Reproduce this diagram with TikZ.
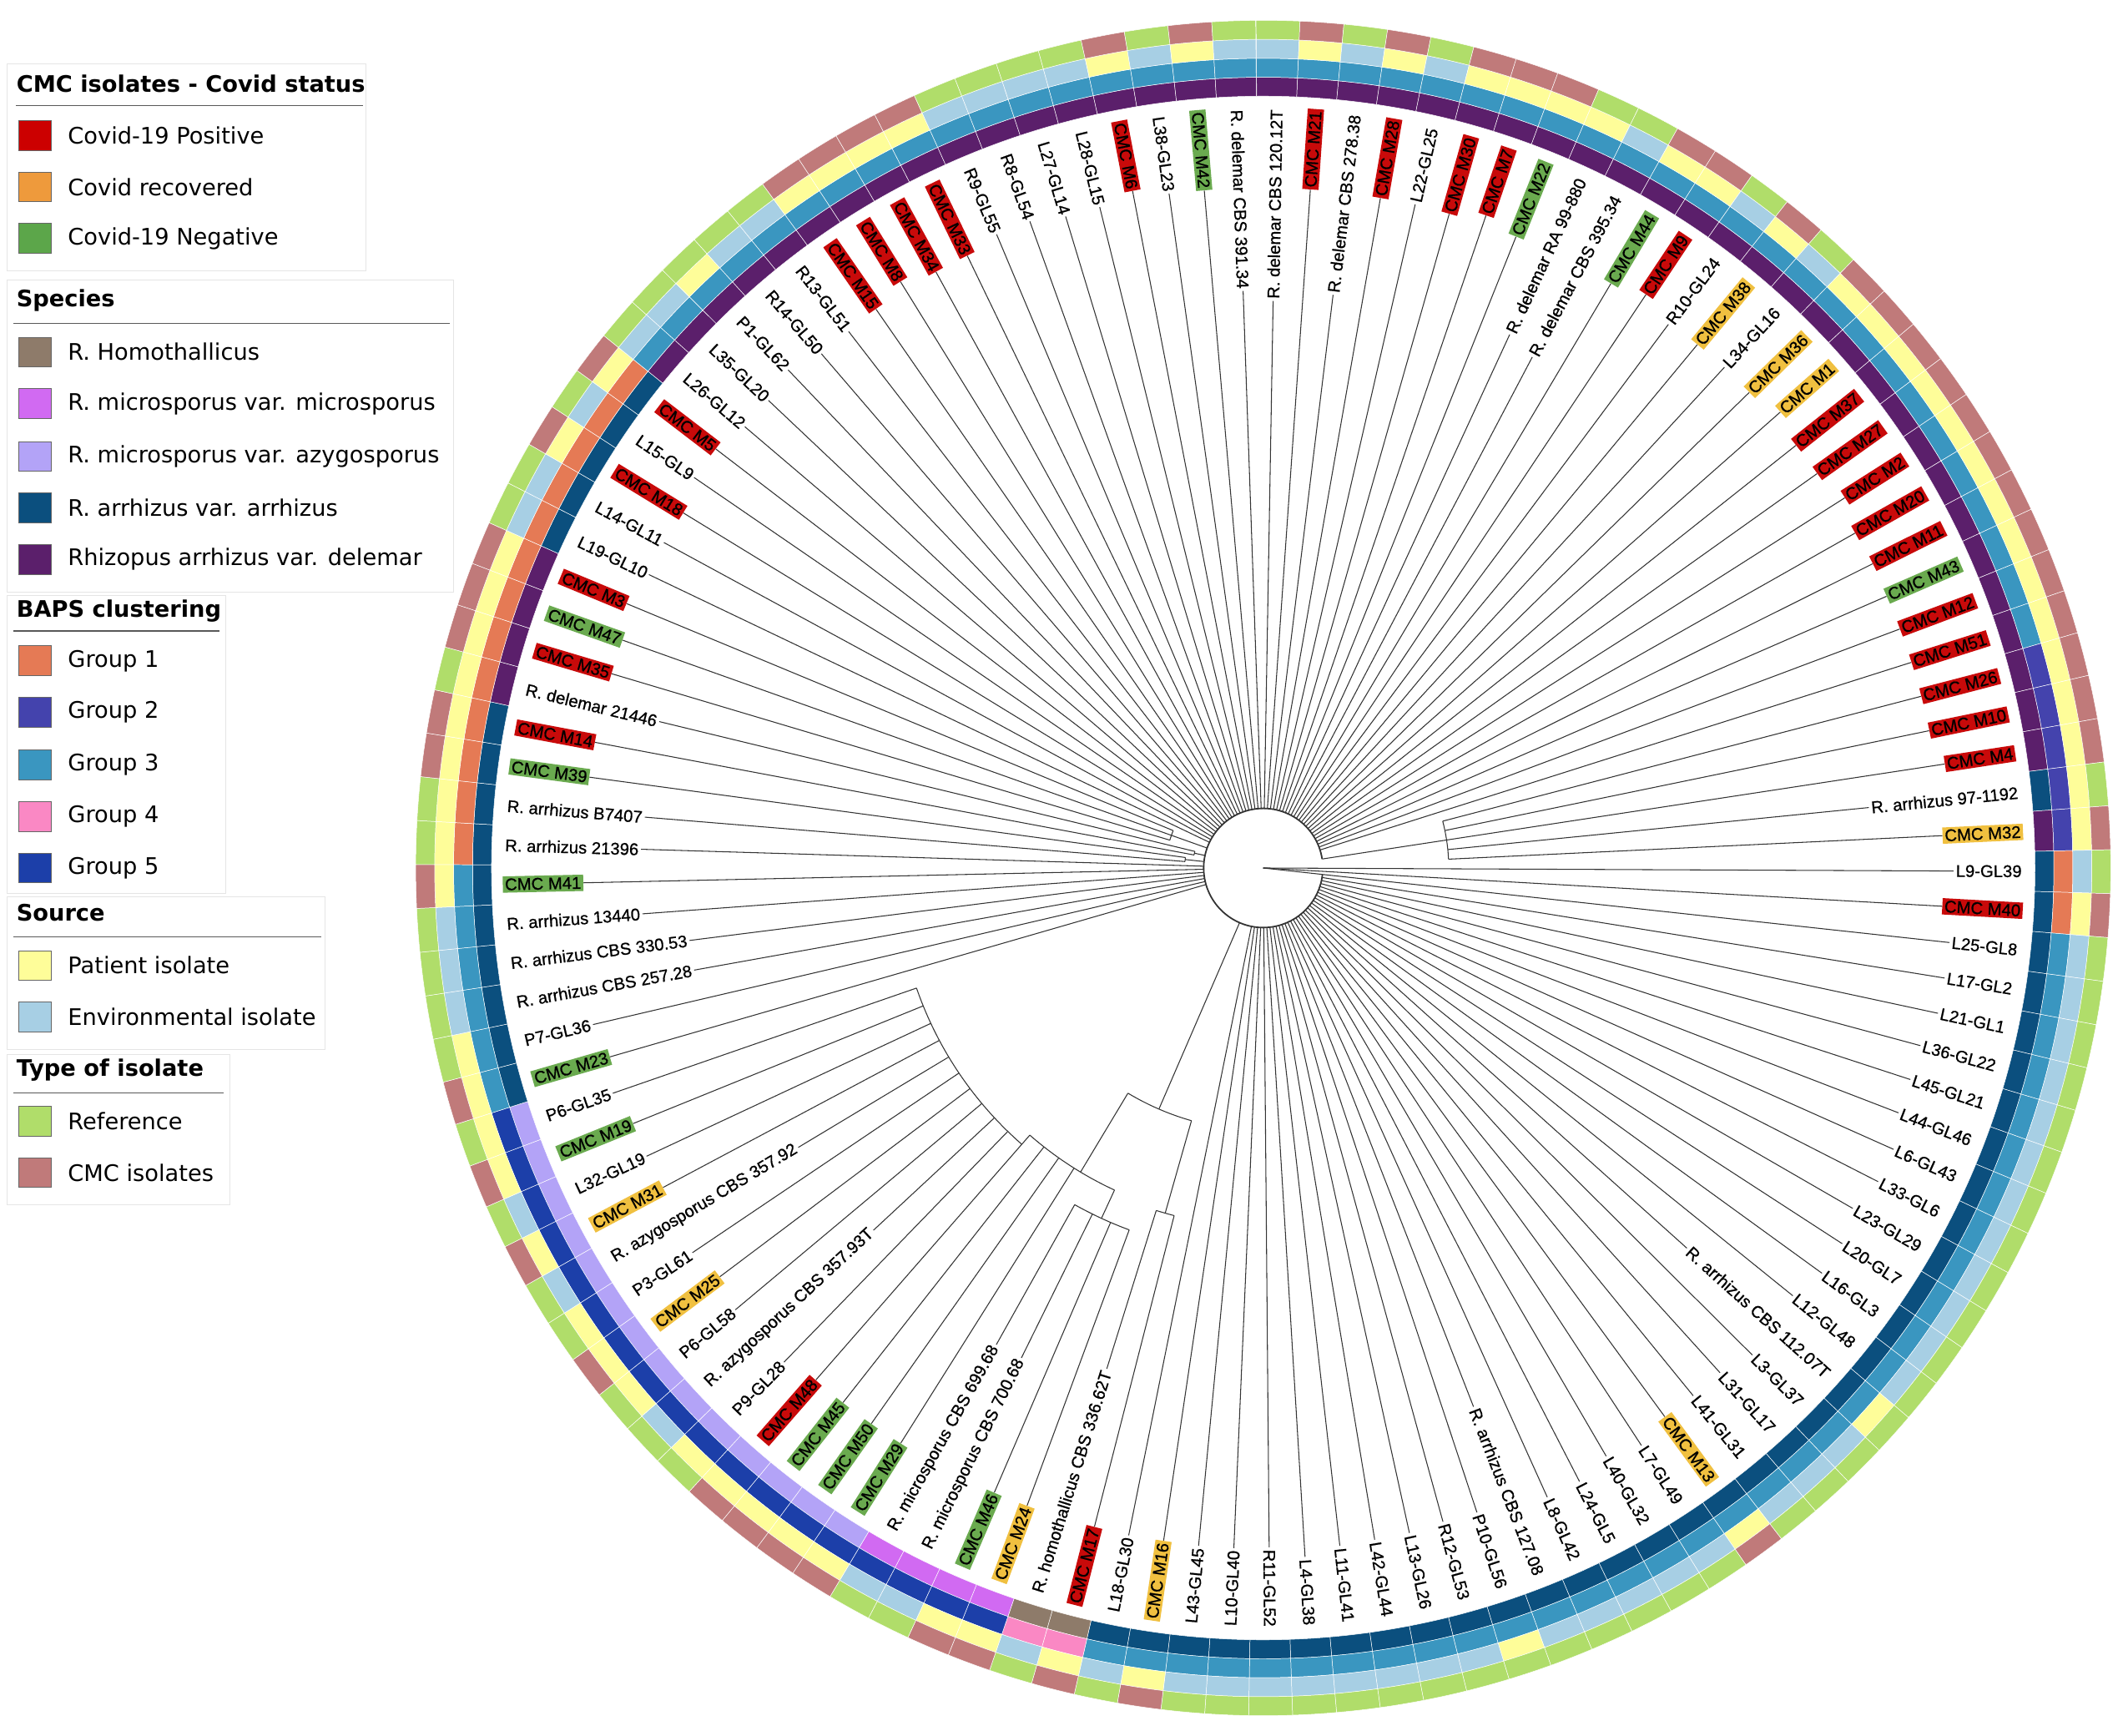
\documentclass[tikz,border=0pt]{standalone}
\usepackage{fontspec}
\setmainfont{Liberation Sans}
\newfontfamily\labfont{Liberation Sans}[BoldFont={Liberation Sans}, BoldFeatures={FakeBold=0.8}]
\newfontfamily\legfont{DejaVu Sans}
\definecolor{spD}{HTML}{5B1F6B}
\definecolor{spA}{HTML}{0B4F7E}
\definecolor{spH}{HTML}{8E7B6A}
\definecolor{spM}{HTML}{D16AF2}
\definecolor{spZ}{HTML}{B3A3F7}
\definecolor{bg1}{HTML}{E57A55}
\definecolor{bg2}{HTML}{4443AD}
\definecolor{bg3}{HTML}{3A96C0}
\definecolor{bg4}{HTML}{FA88C4}
\definecolor{bg5}{HTML}{1C3FA9}
\definecolor{soY}{HTML}{FEFD99}
\definecolor{soE}{HTML}{A7CFE4}
\definecolor{typ}{HTML}{B0DD6A}
\definecolor{tyr}{HTML}{C07A7A}
\definecolor{tyo}{HTML}{C07A7A}
\definecolor{tyg}{HTML}{C07A7A}
\definecolor{labp}{HTML}{FFFFFF}
\definecolor{labr}{HTML}{C80A0A}
\definecolor{labo}{HTML}{F0C040}
\definecolor{labg}{HTML}{6AAA4F}
\definecolor{lgPos}{HTML}{CC0000}
\definecolor{lgRec}{HTML}{EE9A3C}
\definecolor{lgNeg}{HTML}{5CA64A}
\newcommand\rcell[5]{%
  \fill[fill=#5, draw=white, line width=0.3pt] (#1:#3pt) arc[start angle=#1, end angle=#2, radius=#3pt] -- (#2:#4pt) arc[start angle=#2, end angle=#1, radius=#4pt] -- cycle;}
\newcommand\legitem[4]{%
  \node[swatch, fill=#3] (#1s) at (-907pt,#2pt) {};
  \node[anchor=west, inner sep=0pt] (#1t) at (-883pt,#2pt) {#4};}
\newcommand\legtitle[3]{%
  \node[anchor=west, inner sep=0pt, font=\legfont\bfseries\fontsize{16.8}{19}\selectfont] (#1) at (-921pt,#2pt) {#3};}
\tikzset{
  lab/.style={font=\labfont\bfseries\fontsize{12.5}{14}\selectfont, inner sep=1.6pt, text=black},
  branch/.style={draw=black!80, line width=0.65pt},
  swatch/.style={draw=black!60, line width=0.5pt, minimum width=24pt, minimum height=22pt, inner sep=0pt},
  legbox/.style={draw=black!10, line width=0.6pt},
  legrule/.style={draw=black!65, line width=0.8pt}
}
\begin{document}
\begin{tikzpicture}
\useasboundingbox (-933pt,-641pt) rectangle (635pt,641pt);
\fill[white] (-933pt,-641pt) rectangle (635pt,641pt);

\foreach \i/\txt/\lsty/\spc/\bpc/\soc/\rnd in {
1/R. delemar CBS 120.12T/p/D/bg3/E/44,
2/CMC M21/r/D/bg3/Y/44,
3/R. delemar CBS 278.38/p/D/bg3/E/44,
4/CMC M28/r/D/bg3/Y/44,
5/L22-GL25/p/D/bg3/E/44,
6/CMC M30/r/D/bg3/Y/44,
7/CMC M7/r/D/bg3/Y/44,
8/CMC M22/g/D/bg3/Y/44,
9/R. delemar RA 99-880/p/D/bg3/Y/44,
10/R. delemar CBS 395.34/p/D/bg3/E/44,
11/CMC M44/g/D/bg3/Y/44,
12/CMC M9/r/D/bg3/Y/44,
13/R10-GL24/p/D/bg3/E/44,
14/CMC M38/o/D/bg3/Y/44,
15/L34-GL16/p/D/bg3/E/44,
16/CMC M36/o/D/bg3/Y/44,
17/CMC M1/o/D/bg3/Y/44,
18/CMC M37/r/D/bg3/Y/44,
19/CMC M27/r/D/bg3/Y/44,
20/CMC M2/r/D/bg3/Y/44,
21/CMC M20/r/D/bg3/Y/44,
22/CMC M11/r/D/bg3/Y/44,
23/CMC M43/g/D/bg3/Y/44,
24/CMC M12/r/D/bg3/Y/44,
25/CMC M51/r/D/bg3/Y/44,
26/CMC M26/r/D/bg2/Y/137,
27/CMC M10/r/D/bg2/Y/137,
28/CMC M4/r/D/bg2/Y/137,
29/R. arrhizus 97-1192/p/A/bg2/Y/137,
30/CMC M32/o/D/bg2/Y/137,
31/L9-GL39/p/A/bg1/E/0,
32/CMC M40/r/A/bg1/Y/0,
33/L25-GL8/p/A/bg3/E/44,
34/L17-GL2/p/A/bg3/E/44,
35/L21-GL1/p/A/bg3/E/44,
36/L36-GL22/p/A/bg3/E/44,
37/L45-GL21/p/A/bg3/E/44,
38/L44-GL46/p/A/bg3/E/44,
39/L6-GL43/p/A/bg3/E/44,
40/L33-GL6/p/A/bg3/E/44,
41/L23-GL29/p/A/bg3/E/44,
42/L20-GL7/p/A/bg3/E/44,
43/L16-GL3/p/A/bg3/E/44,
44/L12-GL48/p/A/bg3/E/44,
45/R. arrhizus CBS 112.07T/p/A/bg3/Y/44,
46/L3-GL37/p/A/bg3/E/44,
47/L31-GL17/p/A/bg3/E/44,
48/L41-GL31/p/A/bg3/E/44,
49/CMC M13/o/A/bg3/Y/44,
50/L7-GL49/p/A/bg3/E/44,
51/L40-GL32/p/A/bg3/E/44,
52/L24-GL5/p/A/bg3/E/44,
53/L8-GL42/p/A/bg3/E/44,
54/R. arrhizus CBS 127.08/p/A/bg3/E/44,
55/P10-GL56/p/A/bg3/Y/44,
56/R12-GL53/p/A/bg3/E/44,
57/L13-GL26/p/A/bg3/E/44,
58/L42-GL44/p/A/bg3/E/44,
59/L11-GL41/p/A/bg3/E/44,
60/L4-GL38/p/A/bg3/E/44,
61/R11-GL52/p/A/bg3/E/44,
62/L10-GL40/p/A/bg3/E/44,
63/L43-GL45/p/A/bg3/E/44,
64/CMC M16/o/A/bg3/Y/44,
65/L18-GL30/p/A/bg3/E/44,
66/CMC M17/r/H/bg4/Y/265,
67/R. homothallicus CBS 336.62T/p/H/bg4/E/265,
68/CMC M24/o/M/bg5/Y/285,
69/CMC M46/g/M/bg5/Y/285,
70/R. microsporus CBS 700.68/p/M/bg5/E/285,
71/R. microsporus CBS 699.68/p/M/bg5/E/285,
72/CMC M29/g/Z/bg5/Y/262,
73/CMC M50/g/Z/bg5/Y/262,
74/CMC M45/g/Z/bg5/Y/262,
75/CMC M48/r/Z/bg5/Y/271,
76/P9-GL28/p/Z/bg5/Y/271,
77/R. azygosporus CBS 357.93T/p/Z/bg5/E/271,
78/P6-GL58/p/Z/bg5/Y/271,
79/CMC M25/o/Z/bg5/Y/271,
80/P3-GL61/p/Z/bg5/Y/271,
81/R. azygosporus CBS 357.92/p/Z/bg5/E/271,
82/CMC M31/o/Z/bg5/Y/271,
83/L32-GL19/p/Z/bg5/E/271,
84/CMC M19/g/Z/bg5/Y/271,
85/P6-GL35/p/Z/bg5/Y/271,
86/CMC M23/g/A/bg3/Y/44,
87/P7-GL36/p/A/bg3/Y/44,
88/R. arrhizus CBS 257.28/p/A/bg3/E/44,
89/R. arrhizus CBS 330.53/p/A/bg3/E/44,
90/R. arrhizus 13440/p/A/bg3/E/44,
91/CMC M41/g/A/bg3/Y/44,
92/R. arrhizus 21396/p/A/bg1/Y/44,
93/R. arrhizus B7407/p/A/bg1/Y/58,
94/CMC M39/g/A/bg1/Y/58,
95/CMC M14/r/A/bg1/Y/52,
96/R. delemar 21446/p/D/bg1/Y/52,
97/CMC M35/r/D/bg1/Y/72,
98/CMC M47/g/D/bg1/Y/72,
99/CMC M3/r/D/bg1/Y/72,
100/L19-GL10/p/A/bg1/E/44,
101/L14-GL11/p/A/bg1/E/44,
102/CMC M18/r/A/bg1/Y/44,
103/L15-GL9/p/A/bg1/E/44,
104/CMC M5/r/A/bg1/Y/44,
105/L26-GL12/p/D/bg3/E/44,
106/L35-GL20/p/D/bg3/E/44,
107/P1-GL62/p/D/bg3/Y/44,
108/R14-GL50/p/D/bg3/E/44,
109/R13-GL51/p/D/bg3/E/44,
110/CMC M15/r/D/bg3/Y/44,
111/CMC M8/r/D/bg3/Y/44,
112/CMC M34/r/D/bg3/Y/44,
113/CMC M33/r/D/bg3/Y/44,
114/R9-GL55/p/D/bg3/E/44,
115/R8-GL54/p/D/bg3/E/44,
116/L27-GL14/p/D/bg3/E/44,
117/L28-GL15/p/D/bg3/E/44,
118/CMC M6/r/D/bg3/Y/44,
119/L38-GL23/p/D/bg3/E/44,
120/CMC M42/g/D/bg3/Y/44,
121/R. delemar CBS 391.34/p/D/bg3/E/44}{
  \pgfmathsetmacro\tha{89-(\i-1)*2.975}
  \pgfmathsetmacro\tA{\tha-1.4875}
  \pgfmathsetmacro\tB{\tha+1.4875}
  \rcell{\tA}{\tB}{570}{584}{sp\spc}
  \rcell{\tA}{\tB}{584}{598}{\bpc}
  \rcell{\tA}{\tB}{598}{612}{so\soc}
  \rcell{\tA}{\tB}{612}{626}{ty\lsty}
  \coordinate (s\i) at (\tha:\rnd pt);
  \ifdim\tha pt>-90pt
    \node[lab, fill=lab\lsty, rotate=\tha, anchor=east] (L\i) at (\tha:562pt) {\txt};
    \draw[branch] (s\i) -- (L\i.west);
  \else
    \node[lab, fill=lab\lsty, rotate=\tha+180, anchor=west] (L\i) at (\tha:562pt) {\txt};
    \draw[branch] (s\i) -- (L\i.east);
  \fi
}

% internal tree structure
\coordinate (root) at (0pt,0pt);
\coordinate (n1) at (-6.2:44pt);
\draw[branch, line width=1.1pt] (8.675:44pt) arc[start angle=8.675, end angle=353.8, radius=44pt];
\draw[branch] (root) -- (n1);
% right clade
\coordinate (cRa) at (8.675:44pt);
\coordinate (cR) at (8.675:137pt);
\draw[branch] (cRa) -- (cR);
\draw[branch] (2.725:137pt) arc[start angle=2.725, end angle=14.625, radius=137pt];
% left small clades
\coordinate (cXa) at (160.425:44pt);
\coordinate (cX) at (160.425:72pt);
\draw[branch] (cXa) -- (cX);
\draw[branch] (157.45:72pt) arc[start angle=157.45, end angle=163.4, radius=72pt];
\coordinate (cYa) at (173.81:44pt);
\coordinate (cY) at (173.81:58pt);
\draw[branch] (cYa) -- (cY);
\draw[branch] (172.325:58pt) arc[start angle=172.325, end angle=175.3, radius=58pt];
\coordinate (cZa) at (167.86:44pt);
\coordinate (cZ) at (167.86:52pt);
\draw[branch] (cZa) -- (cZ);
\draw[branch] (166.375:52pt) arc[start angle=166.375, end angle=169.35, radius=52pt];
% bottom clade
\coordinate (b1a) at (-113.4:44pt);
\coordinate (b1) at (-113.4:194pt);
\draw[branch] (b1a) -- (b1);
\draw[branch] (-121:194pt) arc[start angle=-121, end angle=-105.86, radius=194pt];
\coordinate (b2a) at (-121:194pt);
\coordinate (b2) at (-121:262pt);
\draw[branch] (b2a) -- (b2);
\coordinate (ha) at (-105.86:194pt);
\coordinate (h) at (-105.86:265pt);
\draw[branch] (ha) -- (h);
\draw[branch] (-107.35:265pt) arc[start angle=-107.35, end angle=-104.375, radius=265pt];
\draw[branch] (-131.15:262pt) arc[start angle=-131.15, end angle=-114.79, radius=262pt];
\coordinate (ma) at (-114.79:262pt);
\coordinate (m) at (-114.79:285pt);
\draw[branch] (ma) -- (m);
\draw[branch] (-119.25:285pt) arc[start angle=-119.25, end angle=-110.325, radius=285pt];
\coordinate (b3a) at (-131.15:262pt);
\coordinate (b3) at (-131.15:271pt);
\draw[branch] (b3a) -- (b3);
\draw[branch] (-160.9:271pt) arc[start angle=-160.9, end angle=-131.15, radius=271pt];

% legend
\begin{scope}[font=\legfont\fontsize{16.8}{19}\selectfont]
\draw[legbox] (-928pt,594pt) rectangle (-663pt,441pt);
\legtitle{T1}{579}{CMC isolates - Covid status}
\draw[legrule] (-921pt,563pt) -- (-665pt,563pt);
\legitem{a1}{541}{lgPos}{Covid-19 Positive}
\legitem{a2}{503}{lgRec}{Covid recovered}
\legitem{a3}{465}{lgNeg}{Covid-19 Negative}

\draw[legbox] (-928pt,434pt) rectangle (-598pt,204pt);
\legtitle{T2}{419}{Species}
\draw[legrule] (-923pt,402pt) -- (-601pt,402pt);
\legitem{b1}{381}{spH}{R. Homothallicus}
\legitem{b2}{343}{spM}{R. microsporus var. microsporus}
\legitem{b3}{304}{spZ}{R. microsporus var. azygosporus}
\legitem{b4}{266}{spA}{R. arrhizus var. arrhizus}
\legitem{b5}{228}{spD}{Rhizopus arrhizus var. delemar}

\draw[legbox] (-928pt,201pt) rectangle (-766pt,-19pt);
\legtitle{T3}{190}{BAPS clustering}
\draw[legrule] (-923pt,175pt) -- (-771pt,175pt);
\legitem{c1}{153}{bg1}{Group 1}
\legitem{c2}{115}{bg2}{Group 2}
\legitem{c3}{76}{bg3}{Group 3}
\legitem{c4}{38}{bg4}{Group 4}
\legitem{c5}{0}{bg5}{Group 5}

\draw[legbox] (-928pt,-21pt) rectangle (-693pt,-134pt);
\legtitle{T4}{-33}{Source}
\draw[legrule] (-923pt,-51pt) -- (-696pt,-51pt);
\legitem{d1}{-72}{soY}{Patient isolate}
\legitem{d2}{-110}{soE}{Environmental isolate}

\draw[legbox] (-928pt,-138pt) rectangle (-763pt,-249pt);
\legtitle{T5}{-149}{Type of isolate}
\draw[legrule] (-923pt,-166pt) -- (-768pt,-166pt);
\legitem{e1}{-187}{typ}{Reference}
\legitem{e2}{-225}{tyr}{CMC isolates}
\end{scope}
\end{tikzpicture}
\end{document}
